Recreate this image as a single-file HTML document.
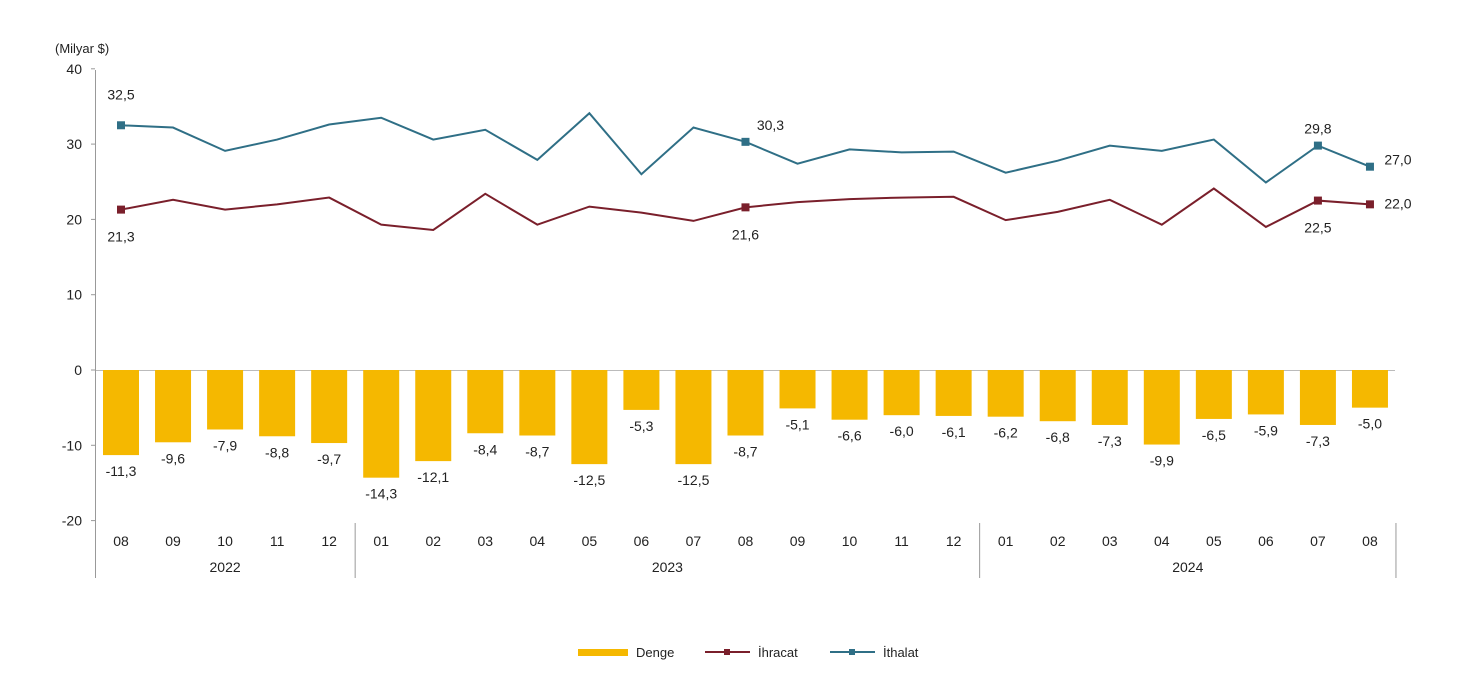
<!DOCTYPE html>
<html><head><meta charset="utf-8"><style>
body{margin:0;background:#fff;}
svg text{font-family:"Liberation Sans",sans-serif;fill:#222;}
</style></head><body>
<svg width="1479" height="675" xmlns="http://www.w3.org/2000/svg">
<g id="g"></g>
</svg>
<script>
const months=["08","09","10","11","12","01","02","03","04","05","06","07","08","09","10","11","12","01","02","03","04","05","06","07","08"];
const years=[{label:"2022",from:0,to:4},{label:"2023",from:5,to:16},{label:"2024",from:17,to:24}];
const ithalat=[32.5,32.2,29.1,30.6,32.6,33.5,30.6,31.9,27.9,34.1,26.0,32.2,30.3,27.4,29.3,28.9,29.0,26.2,27.8,29.8,29.1,30.6,24.9,29.8,27.0];
const ihracat=[21.3,22.6,21.3,22.0,22.9,19.3,18.6,23.4,19.3,21.7,20.9,19.8,21.6,22.3,22.7,22.9,23.0,19.9,21.0,22.6,19.3,24.1,19.0,22.5,22.0];
const denge=[-11.3,-9.6,-7.9,-8.8,-9.7,-14.3,-12.1,-8.4,-8.7,-12.5,-5.3,-12.5,-8.7,-5.1,-6.6,-6.0,-6.1,-6.2,-6.8,-7.3,-9.9,-6.5,-5.9,-7.3,-5.0];
const yTicks=[40,30,20,10,0,-10,-20];
const markedIdx=[0,12,23,24];

const g=document.getElementById('g');
const NS="http://www.w3.org/2000/svg";
const y=v=>370-v*7.53;
const x=i=>121+i*52.04;
const fmt=v=>v.toFixed(1).replace('.',',');
function el(t,a,txt){const e=document.createElementNS(NS,t);for(const k in a)e.setAttribute(k,a[k]);if(txt!==undefined)e.textContent=txt;g.appendChild(e);return e;}

let e=el('text',{x:55,y:53,'font-size':13},'(Milyar $)');


e=el('line',{x1:95.5,y1:70,x2:95.5,y2:578,stroke:'#999'});


yTicks.forEach(t=>{
  let l=el('line',{x1:91,x2:95,y1:y(t),y2:y(t),stroke:'#999'});
  
  
  let tx=el('text',{x:82,y:y(t)+5,'font-size':14,'text-anchor':'end'},String(t));
  
  
});
e=el('line',{x1:96,x2:1395,y1:370.5,y2:370.5,stroke:'#bbb'});



denge.forEach((v,i)=>{
  let r=el('rect',{x:x(i)-18,y:370,width:36,height:-v*7.53,fill:'#f5b800'});
  
  
  let t=el('text',{x:x(i),y:y(v)+21,'font-size':14,'text-anchor':'middle'},fmt(v));
  
  
});
function line(arr,color,name){
  let p=el('polyline',{points:arr.map((v,i)=>x(i)+','+y(v)).join(' '),fill:'none',stroke:color,'stroke-width':2});
  
  
  markedIdx.forEach(i=>{
    let m=el('rect',{x:x(i)-4,y:y(arr[i])-4,width:8,height:8,fill:color});
    
    
  });
}
line(ithalat,'#2f6f86','ithalat');
line(ihracat,'#7a1f2b','ihracat');
const ithOff={0:[0,-26],12:[25,-12],23:[0,-12],24:[28,-2]};
const ihrOff={0:[0,32],12:[0,32],23:[0,32],24:[28,4]};
markedIdx.forEach(i=>{
  let t=el('text',{x:x(i)+ithOff[i][0],y:y(ithalat[i])+ithOff[i][1],'font-size':14,'text-anchor':'middle'},fmt(ithalat[i]));
  
  
  let u=el('text',{x:x(i)+ihrOff[i][0],y:y(ihracat[i])+ihrOff[i][1],'font-size':14,'text-anchor':'middle'},fmt(ihracat[i]));
  
  
});
months.forEach((m,i)=>{
  let t=el('text',{x:x(i),y:546,'font-size':14,'text-anchor':'middle'},m);
  
  
});
years.forEach((yr,k)=>{
  let t=el('text',{x:(x(yr.from)+x(yr.to))/2,y:572,'font-size':14,'text-anchor':'middle'},yr.label);
  
  
  let sx=x(yr.to)+26;
  let l=el('line',{x1:sx,x2:sx,y1:523,y2:578,stroke:'#999'});
  
  
});
e=el('rect',{x:578,y:649,width:50,height:7,fill:'#f5b800'});


e=el('text',{x:636,y:657,'font-size':13},'Denge');


[['#7a1f2b',705,'İhracat','legend-ihracat'],['#2f6f86',830,'İthalat','legend-ithalat']].forEach(([c,lx,lab,n])=>{
  let l=el('line',{x1:lx,x2:lx+45,y1:652,y2:652,stroke:c,'stroke-width':2});
  
  
  let m=el('rect',{x:lx+19,y:649,width:6,height:6,fill:c});
  
  
  let t=el('text',{x:lx+53,y:657,'font-size':13},lab);
  
  
});
</script>
</body></html>
